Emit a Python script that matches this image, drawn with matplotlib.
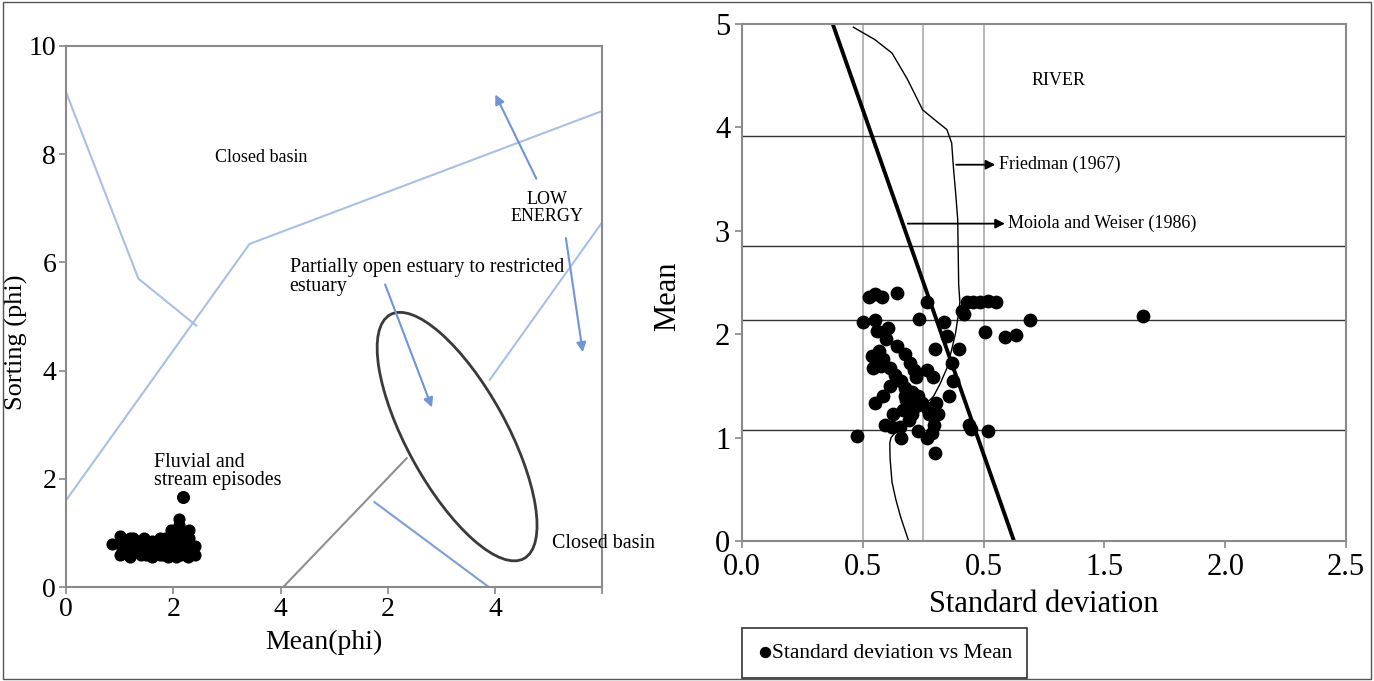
import matplotlib.pyplot as plt
from matplotlib.patches import Ellipse, Rectangle

plt.rcParams['font.family'] = ['Liberation Serif', 'DejaVu Serif']

# ---- left panel data (Mean vs Sorting, phi) ----
fluvial_x = [0.85, 1.0, 1.05, 1.1, 1.15, 1.2, 1.25, 1.3, 1.35, 1.4, 1.45, 1.5, 1.55, 1.6,
             1.65, 1.7, 1.75, 1.8, 1.85, 1.9, 1.95, 2.0, 2.05, 2.1, 2.15, 2.2, 2.25, 2.3,
             2.35, 2.4, 1.0, 1.1, 1.2, 1.3, 1.4, 1.5, 1.6, 1.7, 1.8, 1.9, 2.0, 2.1, 2.2,
             2.3, 1.05, 1.25, 1.45, 1.65, 1.85, 2.05, 2.25, 2.1, 2.15, 2.35, 2.4, 1.15,
             1.75, 1.95, 2.28]
fluvial_y = [0.8, 0.95, 0.7, 0.85, 0.6, 0.9, 0.75, 0.65, 0.85, 0.7, 0.8, 0.6, 0.75, 0.85,
             0.7, 0.8, 0.6, 0.75, 0.9, 0.7, 0.85, 0.65, 0.95, 0.75, 1.0, 0.85, 0.6, 1.05,
             0.7, 0.6, 0.6, 0.7, 0.55, 0.8, 0.6, 0.7, 0.55, 0.65, 0.6, 0.55, 0.8, 1.15,
             0.7, 0.9, 0.85, 0.9, 0.9, 0.6, 0.7, 0.55, 0.95, 1.25, 0.6, 0.65, 0.75, 0.8,
             0.9, 1.05, 0.55]
outlier_x = [2.18]
outlier_y = [1.66]

blue_a = [(0, 9.15), (1.35, 5.7), (2.43, 4.83)]
blue_b = [(0, 1.6), (3.42, 6.34), (10.0, 8.8)]
blue_c = [(7.9, 3.83), (10.0, 6.75)]
blue_d = [(5.75, 1.57), (7.88, 0)]
gray_e = [(4.05, 0), (6.35, 2.38)]

left_xticks = [0, 2, 4, 6, 8, 10]
left_xlabels = ['0', '2', '4', '2', '4', '']

# ---- right panel data (Standard deviation vs Mean) ----
sd = [0.527, 0.549, 0.579, 0.643, 0.766, 0.911, 0.933, 0.957, 0.984, 1.02, 1.053,
      1.193, 1.661, 1.008, 1.087, 1.135, 0.503, 0.549, 0.733, 0.835, 0.557, 0.603,
      0.848, 0.897, 0.799, 0.539, 0.566, 0.585, 0.543, 0.574, 0.612, 0.643, 0.675,
      0.635, 0.612, 0.657, 0.694, 0.712, 0.72, 0.766, 0.79, 0.871, 0.875, 0.675,
      0.702, 0.73, 0.675, 0.69, 0.72, 0.666, 0.702, 0.744, 0.766, 0.775, 0.802,
      0.81, 0.857, 0.552, 0.585, 0.624, 0.592, 0.621, 0.653, 0.657, 0.69, 0.73,
      0.766, 0.785, 0.793, 0.799, 0.94, 0.947, 1.02, 0.476, 0.92, 0.595, 0.68]
mean = [2.36, 2.39, 2.36, 2.40, 2.31, 2.22, 2.31, 2.31, 2.31, 2.32, 2.31,
        2.14, 2.18, 2.02, 1.97, 1.99, 2.12, 2.14, 2.15, 2.12, 2.03, 2.06,
        1.98, 1.86, 1.86, 1.79, 1.84, 1.76, 1.67, 1.69, 1.67, 1.89, 1.81,
        1.61, 1.50, 1.55, 1.72, 1.65, 1.59, 1.65, 1.59, 1.72, 1.55, 1.48,
        1.44, 1.40, 1.40, 1.33, 1.31, 1.27, 1.23, 1.33, 1.29, 1.23, 1.33,
        1.23, 1.40, 1.33, 1.40, 1.23, 1.12, 1.10, 1.10, 1.00, 1.17, 1.06,
        1.00, 1.04, 1.12, 0.85, 1.12, 1.08, 1.06, 1.02, 2.20, 1.95, 1.36]

class_lines = [3.92, 2.85, 2.14, 1.07]
sd_grid = [0.5, 0.75, 1.0]
moiola_line = [(0.376, 5.0), (1.126, 0.0)]
friedman_x = [0.461, 0.55, 0.621, 0.684, 0.748, 0.80, 0.848, 0.868, 0.875, 0.885, 0.893,
              0.897, 0.902, 0.895, 0.884, 0.868, 0.848, 0.82, 0.793, 0.75, 0.712, 0.675,
              0.639, 0.617, 0.612, 0.613, 0.621, 0.637, 0.657, 0.69]
friedman_y = [4.97, 4.85, 4.72, 4.47, 4.17, 4.07, 3.98, 3.85, 3.62, 3.35, 3.11,
              2.48, 2.31, 2.18, 2.01, 1.85, 1.67, 1.52, 1.40, 1.30, 1.21, 1.13,
              1.06, 1.00, 0.95, 0.80, 0.57, 0.40, 0.23, 0.0]
right_xticks = [0.0, 0.5, 1.0, 1.5, 2.0, 2.5]
right_xlabels = ['0.0', '0.5', '0.5', '1.5', '2.0', '2.5']

fig = plt.figure(figsize=(13.74, 6.81), dpi=100)
fig.patches.append(Rectangle((0.002, 0.003), 0.996, 0.994, transform=fig.transFigure,
                             fill=False, edgecolor='#555555', linewidth=1))

# ================= left panel =================
ax1 = fig.add_axes([0.048, 0.138, 0.3905, 0.7945])
ax1.set_xlim(0, 10)
ax1.set_ylim(0, 10)
blue = '#a9bfe6'
for seg, col in [(blue_a, blue), (blue_b, blue), (blue_c, blue), (blue_d, '#7d9fd8'),
                 (gray_e, '#8f8f8f')]:
    ax1.plot([p[0] for p in seg], [p[1] for p in seg], color=col, lw=1.5)
ax1.add_patch(Ellipse((7.29, 2.78), width=5.15, height=1.86, angle=119,
                      fill=False, edgecolor='#3a3a3a', lw=2))
ax1.scatter(fluvial_x, fluvial_y, s=60, color='black', zorder=3)
ax1.scatter(outlier_x, outlier_y, s=70, color='black', zorder=3)

arrow_kw = dict(arrowstyle='-|>', color='#6f95d8', lw=1.5, mutation_scale=14)
ax1.annotate('', xy=(7.98, 9.15), xytext=(8.79, 7.5), arrowprops=arrow_kw)
ax1.annotate('', xy=(9.64, 4.29), xytext=(9.31, 6.5), arrowprops=arrow_kw)
ax1.annotate('', xy=(6.84, 3.27), xytext=(5.93, 5.64), arrowprops=arrow_kw)

ax1.text(3.63, 7.93, 'Closed basin', fontsize=13, ha='center', va='center')
ax1.text(8.97, 7.0, 'LOW\nENERGY', fontsize=13, ha='center', va='center',
         linespacing=1.0)
ax1.text(4.17, 5.73, 'Partially open estuary to restricted\nestuary', fontsize=14.4,
         ha='left', va='center', linespacing=0.95)
ax1.text(1.64, 2.14, 'Fluvial and\nstream episodes', fontsize=14.4, ha='left',
         va='center', linespacing=0.95)
ax1.text(9.05, 0.8, 'Closed basin', fontsize=14.4, ha='left', va='center', clip_on=False)

ax1.set_xticks(left_xticks)
ax1.set_xticklabels(left_xlabels)
ax1.set_yticks([0, 2, 4, 6, 8, 10])
ax1.tick_params(labelsize=20, color='#888888', length=5, width=1.2, pad=2)
for s in ax1.spines.values():
    s.set_color('#8a8a8a')
    s.set_linewidth(1.5)
ax1.set_xlabel('Mean(phi)', fontsize=20)
ax1.xaxis.set_label_coords(0.48, -0.08)
ax1.set_ylabel('Sorting (phi)', fontsize=19)
ax1.yaxis.set_label_coords(-0.071, 0.453)

# ================= right panel =================
ax2 = fig.add_axes([0.540, 0.2056, 0.4396, 0.759])
ax2.set_xlim(0, 2.5)
ax2.set_ylim(0, 5)
for v in sd_grid:
    ax2.axvline(v, color='#aaaaaa', lw=1.2, zorder=1)
for h in class_lines:
    ax2.axhline(h, color='#333333', lw=1.0, zorder=1)
ax2.plot([p[0] for p in moiola_line], [p[1] for p in moiola_line], color='black',
         lw=2.8, zorder=2)
ax2.plot(friedman_x, friedman_y, color='black', lw=1.0, zorder=2)
ax2.scatter(sd, mean, s=80, color='black', zorder=3, label='Standard deviation vs Mean')

arr2 = dict(arrowstyle='-|>', color='black', lw=1.3, mutation_scale=14)
ax2.annotate('', xy=(1.06, 3.64), xytext=(0.875, 3.64), arrowprops=arr2)
ax2.annotate('', xy=(1.10, 3.07), xytext=(0.675, 3.07), arrowprops=arr2)
ax2.text(1.065, 3.64, 'Friedman (1967)', fontsize=13, ha='left', va='center')
ax2.text(1.10, 3.07, 'Moiola and Weiser (1986)', fontsize=13, ha='left', va='center')
ax2.text(1.31, 4.45, 'RIVER', fontsize=13, ha='center', va='center')

ax2.set_xticks(right_xticks)
ax2.set_xticklabels(right_xlabels)
ax2.set_yticks([0, 1, 2, 3, 4, 5])
ax2.tick_params(labelsize=22, color='#888888', length=5, width=1.2)
for s in ax2.spines.values():
    s.set_color('#8a8a8a')
    s.set_linewidth(1.5)
ax2.set_xlabel('Standard deviation', fontsize=22, labelpad=6)
ax2.set_ylabel('Mean', fontsize=22)
ax2.yaxis.set_label_coords(-0.099, 0.474)

leg = fig.legend(loc='upper left', bbox_to_anchor=(0.540, 0.078), fontsize=15.5,
                 frameon=True, fancybox=False, handletextpad=0.0, handlelength=0.7,
                 markerscale=0.8, borderpad=0.7, borderaxespad=0)
leg.get_frame().set_edgecolor('black')
leg.get_frame().set_linewidth(1.2)

fig.savefig('out.png', dpi=100)
